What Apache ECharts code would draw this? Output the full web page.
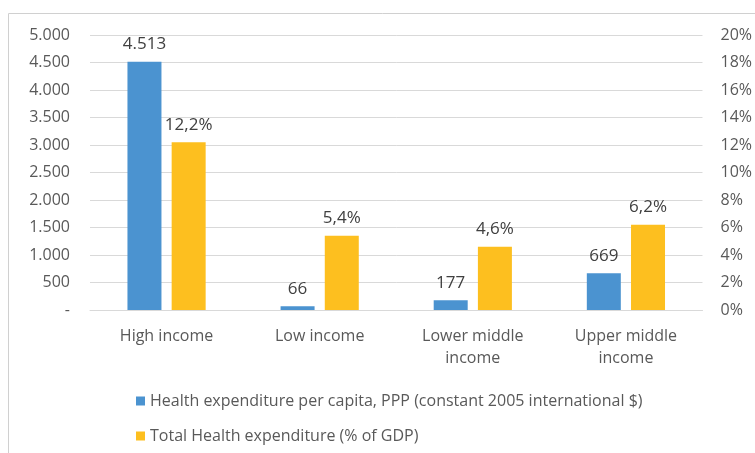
<!DOCTYPE html>
<html><head><meta charset="utf-8">
<script src="https://cdn.jsdelivr.net/npm/echarts@6/dist/echarts.min.js"></script>
<style>html,body{margin:0;padding:0;background:#fff}#c{width:755px;height:453px}</style>
</head><body><div id="c"></div>
<script>
const categories = ['High income', 'Low income', 'Lower middle\nincome', 'Upper middle\nincome'];
const perCapita = [4513, 66, 177, 669];
const pctGdp = [12.2, 5.4, 4.6, 6.2];
const seriesNames = ['Health expenditure per capita, PPP (constant 2005 international $)', 'Total Health expenditure (% of GDP)'];

const FONT = '"Open Sans", "Noto Sans", sans-serif';
const chart = echarts.init(document.getElementById('c'));
function thou(v){ if (v === 0) return '-'; return String(Math.round(v)).replace(/\B(?=(\d{3})+(?!\d))/g, '.'); }
chart.setOption({
  animation: false,
  textStyle: { fontFamily: FONT },
  graphic: [{ type: 'rect', shape: { x: 8.5, y: 13.5, width: 800, height: 500 }, style: { fill: 'none', stroke: '#d0d0d0', lineWidth: 1 } }],
  grid: { left: 90, right: 52, top: 35, bottom: 143 },
  legend: [
    { data: [seriesNames[0]], left: 131, top: 388, orient: 'vertical', itemWidth: 9, itemHeight: 9, itemGap: 4, icon: 'rect', textStyle: { fontSize: 16, color: '#595959', fontFamily: FONT } },
    { data: [seriesNames[1]], left: 131, top: 423, orient: 'vertical', itemWidth: 9, itemHeight: 9, itemGap: 4, icon: 'rect', textStyle: { fontSize: 16, color: '#595959', fontFamily: FONT } }
  ],
  xAxis: {
    type: 'category', data: categories,
    axisLine: { lineStyle: { color: '#d9d9d9' } }, axisTick: { show: false },
    axisLabel: { color: '#595959', fontSize: 16, margin: 15, lineHeight: 22, interval: 0, fontFamily: FONT }
  },
  yAxis: [
    { type: 'value', min: 0, max: 5000, interval: 500,
      axisLine: { show: false }, axisTick: { show: false },
      splitLine: { lineStyle: { color: '#d9d9d9' } },
      axisLabel: { color: '#595959', fontSize: 16, margin: 20, formatter: thou, fontFamily: FONT } },
    { type: 'value', min: 0, max: 20, interval: 2, position: 'right',
      axisLine: { show: false }, axisTick: { show: false }, splitLine: { show: false },
      axisLabel: { color: '#595959', fontSize: 16, margin: 18, formatter: v => v + '%', fontFamily: FONT } }
  ],
  series: [
    { name: seriesNames[0], type: 'bar', data: perCapita, yAxisIndex: 0, barWidth: 34, barGap: '30%',
      itemStyle: { color: '#4B93D0' },
      label: { show: true, position: 'top', distance: 9, color: '#404040', fontSize: 17, formatter: p => thou(p.value), fontFamily: FONT } },
    { name: seriesNames[1], type: 'bar', data: pctGdp, yAxisIndex: 1, barWidth: 34,
      itemStyle: { color: '#FDBF1F' },
      label: { show: true, position: 'top', distance: 9, color: '#404040', fontSize: 17, formatter: p => p.value.toFixed(1).replace('.', ',') + '%', fontFamily: FONT } }
  ]
});
</script></body></html>
